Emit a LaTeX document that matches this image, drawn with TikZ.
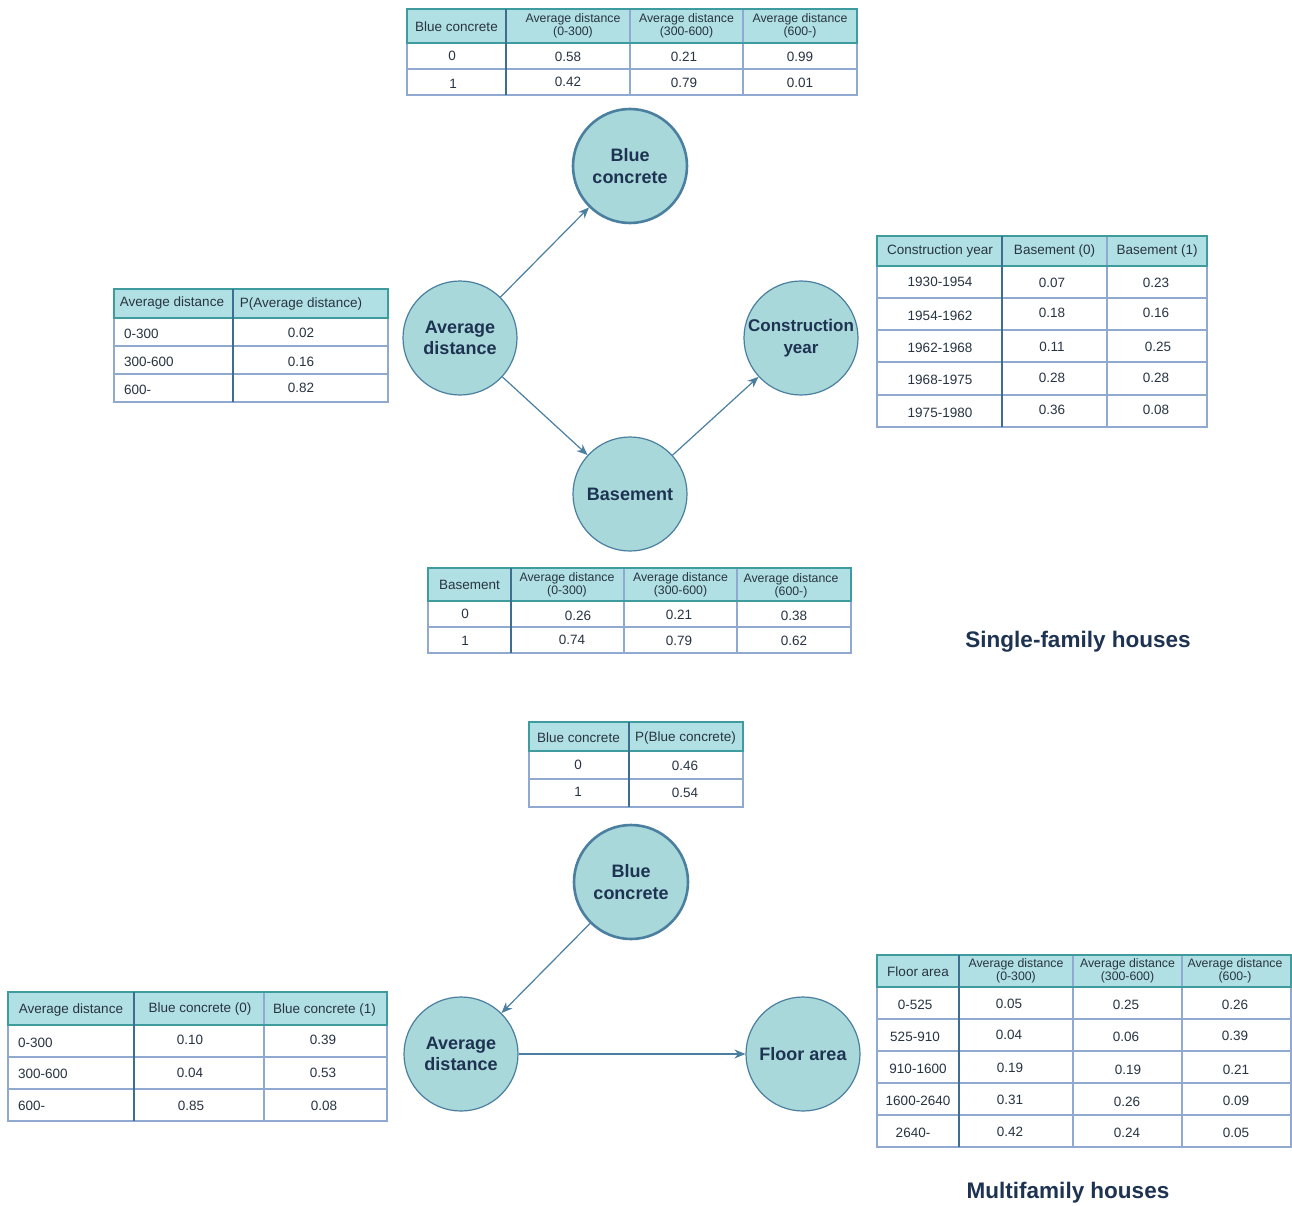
\documentclass[tikz,border=0pt]{standalone}
\usepackage{fontspec}
\setmainfont{Liberation Sans}
\usetikzlibrary{arrows.meta}
\definecolor{circfill}{RGB}{168,216,218}
\definecolor{circdraw}{RGB}{74,127,160}
\definecolor{labcol}{RGB}{30,51,82}
\definecolor{hdrfill}{RGB}{176,224,227}
\definecolor{hdrdraw}{RGB}{62,156,158}
\definecolor{gridcol}{RGB}{143,169,208}
\definecolor{sepcol}{RGB}{61,110,143}
\definecolor{txtcol}{RGB}{40,52,66}
\tikzset{
  x=1pt, y=-1pt,
  bnode/.style={circle, minimum size=114pt, inner sep=0pt, fill=circfill, draw=circdraw, line width=1.2pt, align=center, text=labcol, font=\bfseries\fontsize{18}{21.5}\selectfont},
  bnodethick/.style={bnode, line width=2.6pt},
  arr/.style={draw=circdraw, line width=1.2pt, -{Stealth[length=11pt,width=9pt]}},
  hdr/.style={fill=hdrfill},
  hdrline/.style={draw=hdrdraw, line width=1.2pt},
  gridl/.style={draw=gridcol, line width=1.1pt},
  sep/.style={draw=sepcol, line width=1.8pt},
  cell/.style={inner sep=0pt, text=txtcol, font=\fontsize{13.5}{15}\selectfont},
  hcell/.style={inner sep=0pt, text=txtcol, align=center, font=\fontsize{12.3}{13}\selectfont},
  title/.style={inner sep=0pt, text=labcol, font=\bfseries\fontsize{22.5}{26}\selectfont}
}
\begin{document}
\begin{tikzpicture}
\useasboundingbox (0,0) rectangle (1292,1206);
\fill[white] (0,0) rectangle (1292,1206);

% ---------- Table 1 (Blue concrete | Average distance) ----------
\fill[hdr] (407,9) rectangle (857,43);
\foreach \x in {630,743} \draw[gridl] (\x,9) -- (\x,95);
\draw[gridl] (407,69) -- (857,69);
\draw[gridl] (407,9) rectangle (857,95);
\draw[hdrline] (407,9) rectangle (857,43);
\draw[sep] (506,9) -- (506,95);
\node[cell] (t1h0) at (456.5,26.5) {Blue concrete};
\node[hcell] (t1h1) at (573,26) {Average distance\\(0-300)};
\node[hcell] (t1h2) at (686.5,26) {Average distance\\(300-600)};
\node[hcell] (t1h3) at (800,26) {Average distance\\(600-)};
\node[cell] (t1a0) at (452,55.5) {0};
\node[cell] (t1a1) at (568,56.5) {0.58};
\node[cell] (t1a2) at (684,56.5) {0.21};
\node[cell] (t1a3) at (800,56.5) {0.99};
\node[cell] (t1b0) at (453,83.5) {1};
\node[cell] (t1b1) at (568,81.5) {0.42};
\node[cell] (t1b2) at (684,82.5) {0.79};
\node[cell] (t1b3) at (800,82.5) {0.01};

% ---------- Table 2 (P(Average distance)) ----------
\fill[hdr] (114,289) rectangle (388,318);
\draw[gridl] (114,346) -- (388,346);
\draw[gridl] (114,374) -- (388,374);
\draw[gridl] (114,289) rectangle (388,402);
\draw[hdrline] (114,289) rectangle (388,318);
\draw[sep] (233,289) -- (233,402);
\node[cell] (t2h0) at (172,303) {Average distance};
\node[cell] (t2h1) at (301,304) {P(Average distance)};
\node[cell, anchor=west] (t2a0) at (124,333.5) {0-300};
\node[cell, anchor=west] (t2b0) at (124,361.5) {300-600};
\node[cell, anchor=west] (t2c0) at (124,389.5) {600-};
\node[cell] (t2a1) at (301,332.5) {0.02};
\node[cell] (t2b1) at (301,361.5) {0.16};
\node[cell] (t2c1) at (301,387.5) {0.82};

% ---------- Table 3 (Construction year) ----------
\fill[hdr] (877,236) rectangle (1207,266);
\foreach \y in {298,330,362,395} \draw[gridl] (877,\y) -- (1207,\y);
\draw[gridl] (1107,236) -- (1107,427);
\draw[gridl] (877,236) rectangle (1207,427);
\draw[hdrline] (877,236) rectangle (1207,266);
\draw[sep] (1002,236) -- (1002,427);
\node[cell] (t3h0) at (940,251.5) {Construction year};
\node[cell] (t3h1) at (1054.5,251.5) {Basement (0)};
\node[cell] (t3h2) at (1157,251.5) {Basement (1)};
\node[cell] (t3a0) at (940,281.5) {1930-1954};
\node[cell] (t3a1) at (1052,282.5) {0.07};
\node[cell] (t3a2) at (1156,282.5) {0.23};
\node[cell] (t3b0) at (940,315.5) {1954-1962};
\node[cell] (t3b1) at (1052,312.5) {0.18};
\node[cell] (t3b2) at (1156,312.5) {0.16};
\node[cell] (t3c0) at (940,347.5) {1962-1968};
\node[cell] (t3c1) at (1052,346.5) {0.11};
\node[cell] (t3c2) at (1158,346.5) {0.25};
\node[cell] (t3d0) at (940,379.5) {1968-1975};
\node[cell] (t3d1) at (1052,377.5) {0.28};
\node[cell] (t3d2) at (1156,377.5) {0.28};
\node[cell] (t3e0) at (940,412.5) {1975-1980};
\node[cell] (t3e1) at (1052,409.5) {0.36};
\node[cell] (t3e2) at (1156,409.5) {0.08};

% ---------- Table 4 (Basement | Average distance) ----------
\fill[hdr] (428,568) rectangle (851,601);
\foreach \x in {624,737} \draw[gridl] (\x,568) -- (\x,653);
\draw[gridl] (428,627) -- (851,627);
\draw[gridl] (428,568) rectangle (851,653);
\draw[hdrline] (428,568) rectangle (851,601);
\draw[sep] (511,568) -- (511,653);
\node[cell] (t4h0) at (469.5,585) {Basement};
\node[hcell] (t4h1) at (567,584.5) {Average distance\\(0-300)};
\node[hcell] (t4h2) at (680.5,584.5) {Average distance\\(300-600)};
\node[hcell] (t4h3) at (791,585.5) {Average distance\\(600-)};
\node[cell] (t4a0) at (465,613.5) {0};
\node[cell] (t4a1) at (578,615.5) {0.26};
\node[cell] (t4a2) at (679,614.5) {0.21};
\node[cell] (t4a3) at (794,615.5) {0.38};
\node[cell] (t4b0) at (465,640.5) {1};
\node[cell] (t4b1) at (572,639.5) {0.74};
\node[cell] (t4b2) at (679,640.5) {0.79};
\node[cell] (t4b3) at (794,640.5) {0.62};

% ---------- Table 5 (P(Blue concrete)) ----------
\fill[hdr] (529,722) rectangle (743,751);
\draw[gridl] (529,779) -- (743,779);
\draw[gridl] (529,722) rectangle (743,807);
\draw[hdrline] (529,722) rectangle (743,751);
\draw[sep] (629,722) -- (629,807);
\node[cell] (t5h0) at (578.5,737.5) {Blue concrete};
\node[cell] (t5h1) at (685.5,737.5) {P(Blue concrete)};
\node[cell] (t5a0) at (578,764.5) {0};
\node[cell] (t5a1) at (685,766) {0.46};
\node[cell] (t5b0) at (578,791.5) {1};
\node[cell] (t5b1) at (685,793) {0.54};

% ---------- Table 6 (Average distance | Blue concrete) ----------
\fill[hdr] (8,992) rectangle (387,1025);
\draw[gridl] (8,1057) -- (387,1057);
\draw[gridl] (8,1089) -- (387,1089);
\draw[gridl] (264,992) -- (264,1121);
\draw[gridl] (8,992) rectangle (387,1121);
\draw[hdrline] (8,992) rectangle (387,1025);
\draw[sep] (134,992) -- (134,1121);
\node[cell] (t6h0) at (71,1010) {Average distance};
\node[cell] (t6h1) at (200,1009) {Blue concrete (0)};
\node[cell] (t6h2) at (324.5,1010) {Blue concrete (1)};
\node[cell, anchor=west] (t6a0) at (18,1042.5) {0-300};
\node[cell, anchor=west] (t6b0) at (18,1073.5) {300-600};
\node[cell, anchor=west] (t6c0) at (18,1105.5) {600-};
\node[cell] (t6a1) at (190,1040) {0.10};
\node[cell] (t6b1) at (190,1072.5) {0.04};
\node[cell] (t6c1) at (191,1106) {0.85};
\node[cell] (t6a2) at (323,1040) {0.39};
\node[cell] (t6b2) at (323,1073) {0.53};
\node[cell] (t6c2) at (324,1105.5) {0.08};

% ---------- Table 7 (Floor area) ----------
\fill[hdr] (877,955) rectangle (1291,987);
\foreach \x in {1073,1182} \draw[gridl] (\x,955) -- (\x,1147);
\foreach \y in {1019,1051,1083,1115} \draw[gridl] (877,\y) -- (1291,\y);
\draw[gridl] (877,955) rectangle (1291,1147);
\draw[hdrline] (877,955) rectangle (1291,987);
\draw[sep] (959,955) -- (959,1147);
\node[cell] (t7h0) at (918,971.5) {Floor area};
\node[hcell] (t7h1) at (1016,970.5) {Average distance\\(0-300)};
\node[hcell] (t7h2) at (1127.5,970.5) {Average distance\\(300-600)};
\node[hcell] (t7h3) at (1235,970.5) {Average distance\\(600-)};
\node[cell] (t7a0) at (915,1004.5) {0-525};
\node[cell] (t7b0) at (915,1036.5) {525-910};
\node[cell] (t7c0) at (918,1068.5) {910-1600};
\node[cell] (t7d0) at (918,1100.5) {1600-2640};
\node[cell] (t7e0) at (913,1132.5) {2640-};
\node[cell] (t7a1) at (1009,1003.5) {0.05};
\node[cell] (t7b1) at (1009,1034.5) {0.04};
\node[cell] (t7c1) at (1010,1067.5) {0.19};
\node[cell] (t7d1) at (1010,1099.5) {0.31};
\node[cell] (t7e1) at (1010,1131.5) {0.42};
\node[cell] (t7a2) at (1126,1004.5) {0.25};
\node[cell] (t7b2) at (1126,1036.5) {0.06};
\node[cell] (t7c2) at (1128,1069.5) {0.19};
\node[cell] (t7d2) at (1127,1101.5) {0.26};
\node[cell] (t7e2) at (1127,1132.5) {0.24};
\node[cell] (t7a3) at (1235,1004.5) {0.26};
\node[cell] (t7b3) at (1235,1035.5) {0.39};
\node[cell] (t7c3) at (1236,1069.5) {0.21};
\node[cell] (t7d3) at (1236,1100.5) {0.09};
\node[cell] (t7e3) at (1236,1132.5) {0.05};

% ---------- Network nodes: single-family ----------
\node[bnodethick] (bc1) at (630,166) {Blue\\concrete};
\node[bnode] (ad1) at (460,338) {Average\\distance};
\node[bnode, font=\bfseries\fontsize{17}{21.5}\selectfont] (cy1) at (801,338) {Construction\\year};
\node[bnode] (bs1) at (630,494) {Basement};
\draw[arr] (ad1) -- (bc1);
\draw[arr] (ad1) -- (bs1);
\draw[arr] (bs1) -- (cy1);
\node[title] (ttl1) at (1078,642) {Single-family houses};

% ---------- Network nodes: multifamily ----------
\node[bnodethick] (bc2) at (631,882) {Blue\\concrete};
\node[bnode] (ad2) at (461,1054) {Average\\distance};
\node[bnode] (fa2) at (803,1054) {Floor area};
\draw[arr] (bc2) -- (ad2);
\draw[arr] (ad2) -- (fa2);
\node[title] (ttl2) at (1068,1193) {Multifamily houses};
\end{tikzpicture}
\end{document}
